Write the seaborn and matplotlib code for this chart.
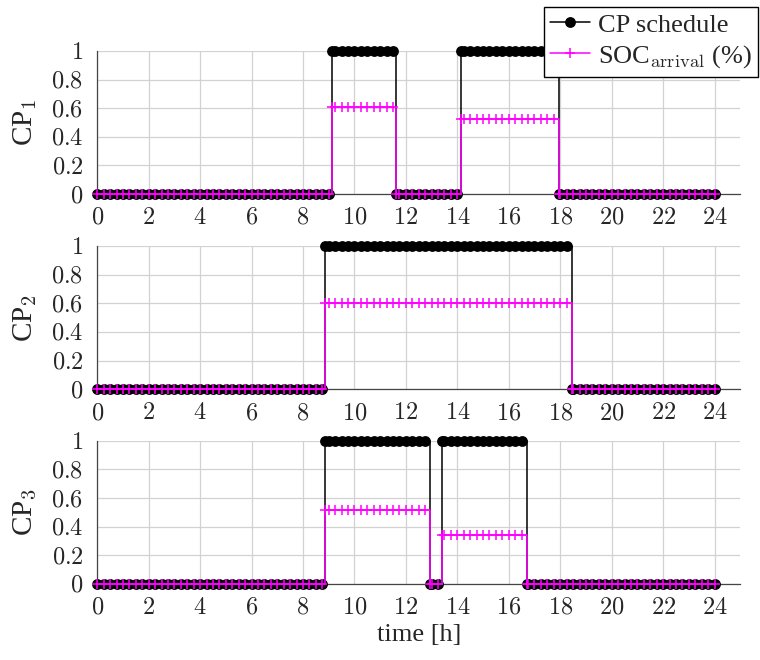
import numpy as np
import pandas as pd
import matplotlib
matplotlib.use("Agg")
import matplotlib.pyplot as plt
import seaborn as sns
from matplotlib.ticker import FuncFormatter

# charging point occupancy: (arrival [h], departure [h], SOC at arrival)
cp1_sessions = [(9.12, 11.63, 0.61), (14.15, 17.97, 0.525)]
cp2_sessions = [(8.87, 18.45, 0.60)]
cp3_sessions = [(8.87, 12.92, 0.515), (13.42, 16.70, 0.34)]
cp_labels = ["CP$_1$", "CP$_2$", "CP$_3$"]

# schedule is sampled every quarter hour
time_grid = np.arange(0, 24.25, 0.25)


def build_schedule(sessions):
    t = sorted(set(np.round(time_grid, 4)) | {s[0] for s in sessions} | {s[1] for s in sessions})
    sched, soc = [], []
    for ti in t:
        on = [s for s in sessions if s[0] <= ti < s[1]]
        sched.append(1 if on else 0)
        soc.append(on[0][2] if on else 0)
    return pd.DataFrame({"time": t, "schedule": sched, "soc": soc})


sns.set_style("white")
plt.rcParams["font.family"] = ["Liberation Serif", "DejaVu Serif"]
plt.rcParams["mathtext.fontset"] = "cm"

fig = plt.figure(figsize=(7.6, 6.6), dpi=100)
tops = [0.9227, 0.627, 0.332]
height = 0.2167
axes = [fig.add_axes([0.128, top - height, 0.846, height]) for top in tops]

magenta = "#ff00ff"
for ax, sessions, lab in zip(axes, [cp1_sessions, cp2_sessions, cp3_sessions], cp_labels):
    df = build_schedule(sessions)
    sns.lineplot(data=df, x="time", y="schedule", ax=ax, estimator=None, sort=False,
                 drawstyle="steps-post", color="black", lw=1.1, marker="o",
                 markersize=7.8, markeredgewidth=0, markerfacecolor="black",
                 markeredgecolor="black", clip_on=False, zorder=3,
                 label="CP schedule")
    sns.lineplot(data=df, x="time", y="soc", ax=ax, estimator=None, sort=False,
                 drawstyle="steps-post", color=magenta, lw=1.1, marker="+",
                 markersize=7.5, markeredgewidth=1.1, markeredgecolor=magenta,
                 clip_on=False, zorder=4,
                 label=r"SOC$_{\mathrm{arrival}}$ (%)")
    ax.set_xlim(0, 25)
    ax.set_ylim(0, 1)
    ax.set_xticks(np.arange(0, 25, 2))
    ax.set_yticks([0, 0.2, 0.4, 0.6, 0.8, 1])
    fmt = FuncFormatter(lambda v, p: f"${v:g}$")
    ax.xaxis.set_major_formatter(fmt)
    ax.yaxis.set_major_formatter(fmt)
    ax.tick_params(axis="both", direction="in", length=4, width=0.8, color="#555555",
                   labelsize=17.5)
    ax.tick_params(axis="x", pad=10)
    ax.tick_params(axis="y", pad=10)
    ax.grid(True, color="#d2d2d2", lw=0.9)
    ax.set_axisbelow(True)
    for side in ["top", "right"]:
        ax.spines[side].set_visible(False)
    for side in ["left", "bottom"]:
        ax.spines[side].set_color("#444444")
        ax.spines[side].set_linewidth(0.9)
    ax.set_ylabel(lab, fontsize=21)
    ax.yaxis.set_label_coords(-0.091, 0.5)
    ax.set_xlabel("")
    ax.get_legend().remove()

axes[-1].set_xlabel("time [h]", fontsize=19, labelpad=4)

handles, labels = axes[0].get_legend_handles_labels()
leg = fig.legend(handles, labels, loc="upper right", bbox_to_anchor=(0.998, 0.99),
                 fontsize=19, frameon=True, fancybox=False, edgecolor="black",
                 framealpha=1.0, handlelength=1.5, handletextpad=0.3,
                 borderpad=0.25, labelspacing=0.25, borderaxespad=0)
leg.get_frame().set_linewidth(1.0)
leg.set_zorder(10)

fig.savefig("out.png", dpi=100)
